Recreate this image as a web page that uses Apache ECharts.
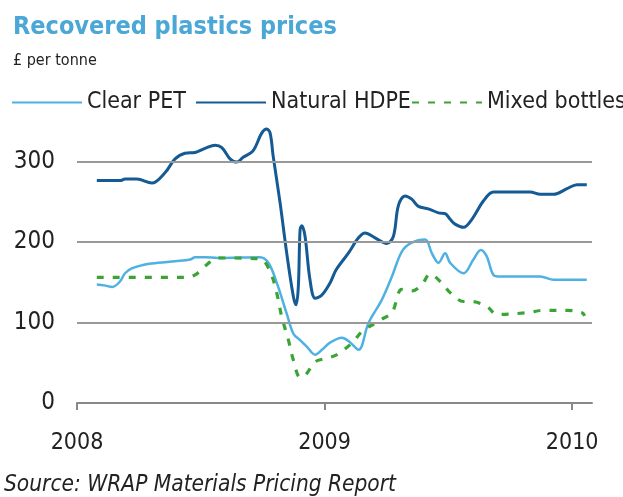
<!DOCTYPE html>
<html>
<head>
<meta charset="utf-8">
<script src="https://cdn.jsdelivr.net/npm/echarts@6/dist/echarts.min.js"></script>
<style>
html,body{margin:0;padding:0;background:#fff;}
#chart{width:623px;height:497px;}
</style>
</head>
<body>
<div id="chart"></div>
<script>
// Time given in fractional years, values in £ per tonne
const seriesNames = ['Clear PET', 'Natural HDPE', 'Mixed bottles'];
const yearTicks = [2008, 2009, 2010];
const yTicks = [0, 100, 200, 300];

const clearPET = [
  [2008.08,147],[2008.11,146],[2008.143,144],[2008.174,151],[2008.194,161],[2008.221,167],[2008.275,172],
  [2008.327,174],[2008.396,176],[2008.457,178],[2008.477,181],[2008.517,181],[2008.57,180],[2008.739,181],
  [2008.773,174],[2008.807,149],[2008.847,111],[2008.874,86],[2008.901,78],[2008.928,70],[2008.962,60],
  [2008.989,66],[2009.022,75],[2009.07,81],[2009.10,76],[2009.137,66],[2009.177,99],[2009.231,128],
  [2009.272,157],[2009.312,188],[2009.352,199],[2009.406,203],[2009.433,186],[2009.46,174],[2009.487,186],
  [2009.507,174],[2009.561,161],[2009.601,178],[2009.631,190],[2009.655,182],[2009.682,159],[2009.709,157],
  [2009.871,157],[2009.925,153],[2010.059,153]
];
const naturalHDPE = [
  [2008.08,276],[2008.174,276],[2008.194,278],[2008.242,278],[2008.302,273],[2008.356,286],[2008.396,303],
  [2008.436,310],[2008.477,311],[2008.517,316],[2008.558,320],[2008.585,317],[2008.618,303],[2008.645,299],
  [2008.671,305],[2008.711,313],[2008.746,335],[2008.766,340],[2008.78,335],[2008.792,307],[2008.82,249],
  [2008.847,186],[2008.874,132],[2008.885,122],[2008.894,145],[2008.901,215],[2008.908,220],[2008.921,207],
  [2008.941,153],[2008.962,130],[2008.989,134],[2009.022,149],[2009.046,165],[2009.096,186],[2009.137,205],
  [2009.164,211],[2009.204,205],[2009.251,198],[2009.278,207],[2009.298,245],[2009.325,257],[2009.352,253],
  [2009.379,244],[2009.419,241],[2009.46,236],[2009.487,235],[2009.507,228],[2009.527,222],[2009.561,218],
  [2009.595,228],[2009.642,251],[2009.682,262],[2009.83,262],[2009.871,259],[2009.925,259],[2009.979,266],
  [2010.019,271],[2010.059,271]
];
const mixedBottles = [
  [2008.08,156],[2008.436,156],[2008.477,159],[2008.517,170],[2008.57,180],[2008.739,179],[2008.78,163],
  [2008.807,136],[2008.827,107],[2008.854,78],[2008.874,53],[2008.901,32],[2008.921,34],[2008.962,51],
  [2009.0,55],[2009.05,60],[2009.112,75],[2009.153,89],[2009.231,104],[2009.272,112],[2009.312,141],
  [2009.352,139],[2009.393,147],[2009.426,160],[2009.473,149],[2009.507,137],[2009.561,126],[2009.59,126],
  [2009.655,120],[2009.695,110],[2009.817,112],[2009.884,115],[2009.979,115],[2010.04,112],[2010.05,108]
];

const FONT = "'Liberation Sans Narrow','DejaVu Sans Condensed','Noto Sans',sans-serif";
const chart = echarts.init(document.getElementById('chart'), null, {renderer:'canvas'});

function mk(name, data, color, width, type) {
  return {
    name: name, type: 'line', data: data, smooth: 0.35, showSymbol: false, symbol: 'none',
    lineStyle: {color: color, width: width, type: type},
    itemStyle: {color: color},
    animation: false
  };
}
function lg(name, left) {
  return {
    left: left, top: 86, itemWidth: 70, itemHeight: 14, itemGap: 0,
    data: [name], selectedMode: false,
    itemStyle: {opacity: 0},
    textStyle: {fontFamily: FONT, fontSize: 23, color: '#222'}
  };
}

chart.setOption({
  animation: false,
  title: {
    text: 'Recovered plastics prices',
    subtext: '£ per tonne',
    left: 8, top: 10, itemGap: 13,
    textStyle: {fontFamily: FONT, fontSize: 25, fontWeight: 'bold', color: '#4aa7d6'},
    subtextStyle: {fontFamily: FONT, fontSize: 16, color: '#222'}
  },
  legend: [lg(seriesNames[0], 6), lg(seriesNames[1], 190), lg(seriesNames[2], 406)],
  grid: {left: 77, right: 31, top: 121, bottom: 94, containLabel: false},
  xAxis: {
    type: 'value', min: 2008, max: 2010.08, interval: 1,
    axisLine: {show: true, lineStyle: {color: '#888', width: 2}},
    axisTick: {show: true, length: 7, lineStyle: {color: '#888', width: 2},
      customValues: yearTicks},
    axisLabel: {fontFamily: FONT, fontSize: 23, color: '#222', margin: 29,
      customValues: yearTicks, formatter: v => String(Math.round(v))},
    splitLine: {show: false}
  },
  yAxis: {
    type: 'value', min: 0, max: 350, interval: 100,
    axisLine: {show: false}, axisTick: {show: false},
    axisLabel: {fontFamily: FONT, fontSize: 24, color: '#222', margin: 22,
      customValues: yTicks},
    splitLine: {show: false}
  },
  series: [
    mk(seriesNames[0], clearPET, '#4fb1e2', 2.5, 'solid'),
    mk(seriesNames[1], naturalHDPE, '#145a94', 3, 'solid'),
    mk(seriesNames[2], mixedBottles, '#3aa535', 3.2, [7, 9]),
    {
      type: 'line', data: [], silent: true,
      markLine: {
        silent: true, symbol: 'none', label: {show: false},
        lineStyle: {color: '#999', width: 2, type: 'solid'},
        data: yTicks.slice(1).map(v => ({yAxis: v}))
      }
    }
  ],
  graphic: [{
    type: 'text', left: 4, top: 474,
    style: {text: 'Source: WRAP Materials Pricing Report', font: "italic 22.5px " + FONT, fill: '#222'}
  }]
});
</script>
</body>
</html>
